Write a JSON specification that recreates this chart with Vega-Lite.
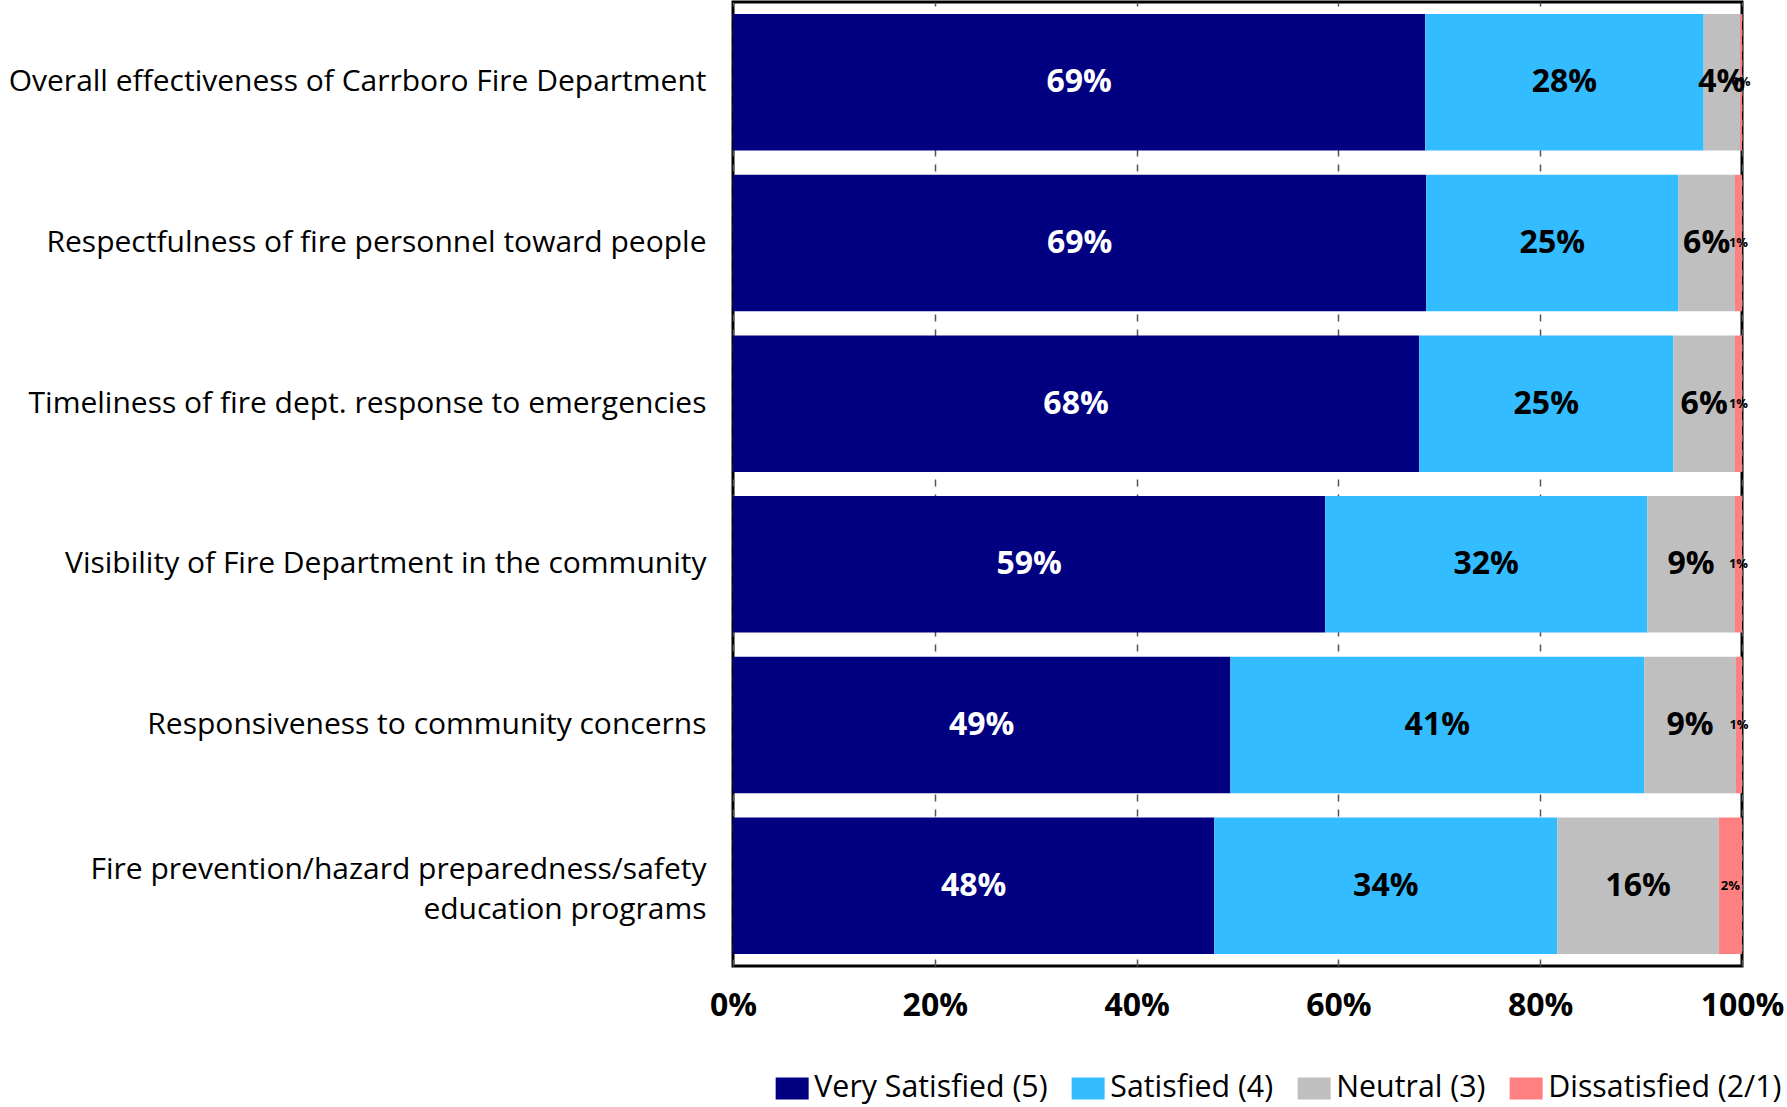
{
  "$schema": "https://vega.github.io/schema/vega-lite/v6.json",
  "width": 1009,
  "height": 964,
  "autosize": "none",
  "padding": {"left": 733, "top": 2, "right": 45, "bottom": 141},
  "config": {
    "view": {"stroke": "black", "strokeWidth": 3},
    "font": "Open Sans"
  },
  "data": {
    "values": [
      {"item": "Overall effectiveness of Carrboro Fire Department", "cat": "Very Satisfied (5)", "rank": 1, "pct": 68.6},
      {"item": "Overall effectiveness of Carrboro Fire Department", "cat": "Satisfied (4)", "rank": 2, "pct": 27.6},
      {"item": "Overall effectiveness of Carrboro Fire Department", "cat": "Neutral (3)", "rank": 3, "pct": 3.6},
      {"item": "Overall effectiveness of Carrboro Fire Department", "cat": "Dissatisfied (2/1)", "rank": 4, "pct": 0.2},
      {"item": "Respectfulness of fire personnel toward people", "cat": "Very Satisfied (5)", "rank": 1, "pct": 68.7},
      {"item": "Respectfulness of fire personnel toward people", "cat": "Satisfied (4)", "rank": 2, "pct": 25.0},
      {"item": "Respectfulness of fire personnel toward people", "cat": "Neutral (3)", "rank": 3, "pct": 5.6},
      {"item": "Respectfulness of fire personnel toward people", "cat": "Dissatisfied (2/1)", "rank": 4, "pct": 0.7},
      {"item": "Timeliness of fire dept. response to emergencies", "cat": "Very Satisfied (5)", "rank": 1, "pct": 68.0},
      {"item": "Timeliness of fire dept. response to emergencies", "cat": "Satisfied (4)", "rank": 2, "pct": 25.2},
      {"item": "Timeliness of fire dept. response to emergencies", "cat": "Neutral (3)", "rank": 3, "pct": 6.1},
      {"item": "Timeliness of fire dept. response to emergencies", "cat": "Dissatisfied (2/1)", "rank": 4, "pct": 0.7},
      {"item": "Visibility of Fire Department in the community", "cat": "Very Satisfied (5)", "rank": 1, "pct": 58.7},
      {"item": "Visibility of Fire Department in the community", "cat": "Satisfied (4)", "rank": 2, "pct": 31.9},
      {"item": "Visibility of Fire Department in the community", "cat": "Neutral (3)", "rank": 3, "pct": 8.7},
      {"item": "Visibility of Fire Department in the community", "cat": "Dissatisfied (2/1)", "rank": 4, "pct": 0.7},
      {"item": "Responsiveness to community concerns", "cat": "Very Satisfied (5)", "rank": 1, "pct": 49.3},
      {"item": "Responsiveness to community concerns", "cat": "Satisfied (4)", "rank": 2, "pct": 41.0},
      {"item": "Responsiveness to community concerns", "cat": "Neutral (3)", "rank": 3, "pct": 9.1},
      {"item": "Responsiveness to community concerns", "cat": "Dissatisfied (2/1)", "rank": 4, "pct": 0.6},
      {"item": "Fire prevention/hazard preparedness/safety education programs", "cat": "Very Satisfied (5)", "rank": 1, "pct": 47.7},
      {"item": "Fire prevention/hazard preparedness/safety education programs", "cat": "Satisfied (4)", "rank": 2, "pct": 34.0},
      {"item": "Fire prevention/hazard preparedness/safety education programs", "cat": "Neutral (3)", "rank": 3, "pct": 16.0},
      {"item": "Fire prevention/hazard preparedness/safety education programs", "cat": "Dissatisfied (2/1)", "rank": 4, "pct": 2.3}
    ]
  },
  "transform": [
    {"stack": "pct", "groupby": ["item"], "sort": [{"field": "rank", "order": "ascending"}], "as": ["p0", "p1"]},
    {"calculate": "(datum.p0 + datum.p1) / 2", "as": "mid"},
    {"calculate": "format(datum.pct, '.0f') + '%'", "as": "label"}
  ],
  "encoding": {
    "y": {
      "field": "item",
      "type": "nominal",
      "sort": null,
      "scale": {"paddingInner": 0.15, "paddingOuter": 0.075},
      "axis": {
        "title": null,
        "domain": false,
        "ticks": false,
        "labelFontSize": 30,
        "labelPadding": 27,
        "labelColor": "black",
        "labelLimit": 0,
        "labelLineHeight": 40,
        "labelOffset": {
          "condition": {"test": "datum.value == 'Fire prevention/hazard preparedness/safety education programs'", "value": -16},
          "value": 0
        },
        "labelExpr": "datum.label == 'Fire prevention/hazard preparedness/safety education programs' ? ['Fire prevention/hazard preparedness/safety', 'education programs'] : datum.label"
      }
    }
  },
  "layer": [
    {
      "mark": {"type": "bar"},
      "encoding": {
        "x": {
          "field": "p0",
          "type": "quantitative",
          "scale": {"domain": [0, 100], "nice": false},
          "axis": {
            "title": null,
            "values": [0, 20, 40, 60, 80, 100],
            "labelExpr": "datum.value + '%'",
            "grid": true,
            "gridDash": [7, 8],
            "gridColor": "#555555",
            "gridWidth": 1.5,
            "domain": false,
            "ticks": false,
            "labelFlush": false,
            "labelFontSize": 32,
            "labelFontWeight": "bold",
            "labelColor": "black",
            "labelPadding": 24
          }
        },
        "x2": {"field": "p1"},
        "color": {
          "field": "cat",
          "type": "nominal",
          "scale": {
            "domain": ["Very Satisfied (5)", "Satisfied (4)", "Neutral (3)", "Dissatisfied (2/1)"],
            "range": ["#000080", "#33BCFF", "#BFBFBF", "#FF8080"]
          },
          "legend": {
            "title": null,
            "orient": "none",
            "direction": "horizontal",
            "legendX": 44,
            "legendY": 1071,
            "symbolType": "M-1.5,-1H1.5V1H-1.5Z",
            "symbolSize": 484,
            "symbolStrokeWidth": 0,
            "labelFontSize": 30.3,
            "labelColor": "black",
            "labelOffset": 7,
            "columnPadding": 23,
            "labelLimit": 0
          }
        }
      }
    },
    {
      "mark": {"type": "text", "fontWeight": "bold", "baseline": "middle", "align": "center"},
      "encoding": {
        "x": {"field": "mid", "type": "quantitative"},
        "text": {"field": "label", "type": "nominal"},
        "color": {
          "condition": {"test": "datum.cat == 'Very Satisfied (5)'", "value": "white"},
          "value": "black"
        },
        "size": {
          "condition": {"test": "datum.cat == 'Dissatisfied (2/1)'", "value": 13},
          "value": 32
        }
      }
    }
  ]
}
